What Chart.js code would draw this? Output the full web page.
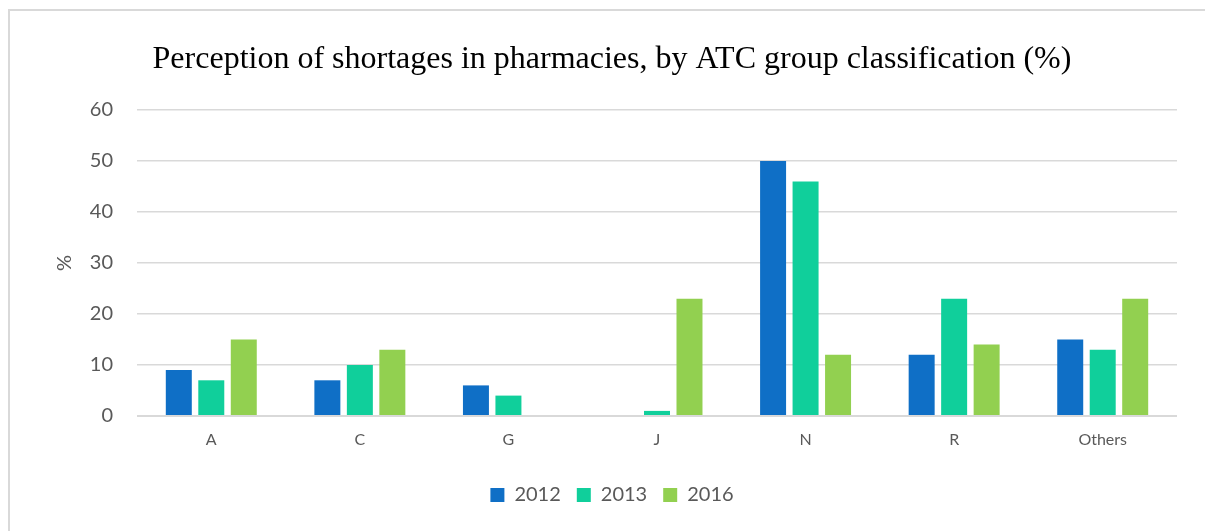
<!DOCTYPE html>
<html>
<head>
<meta charset="utf-8">
<script src="https://cdn.jsdelivr.net/npm/chart.js@4"></script>
<style>
  html, body { margin: 0; padding: 0; background: #ffffff; }
  #wrap { position: relative; width: 1205px; height: 531px; overflow: hidden; }
  #frame { position: absolute; left: 8px; top: 9px; width: 1300px; height: 700px; border: 2px solid #d9d9d9; box-sizing: border-box; }
  #c { position: absolute; left: 0; top: 0; }
</style>
</head>
<body>
<div id="wrap">
  <div id="frame"></div>
  <canvas id="c" width="1205" height="531"></canvas>
</div>
<script>
const categories = ["A", "C", "G", "J", "N", "R", "Others"];
const values2012 = [9, 7, 6, 0, 50, 12, 15];
const values2013 = [7, 10, 4, 1, 46, 23, 13];
const values2016 = [15, 13, 0, 23, 12, 14, 23];
const seriesLabels = ["2012", "2013", "2016"];
const seriesColors = ["#0F6FC6", "#10CF9B", "#92D050"];
const titleText = "Perception of shortages in pharmacies, by ATC group classification (%)";

const sansFont = "Lato, 'Open Sans', sans-serif";
const seriesValues = [values2012, values2013, values2016];

new Chart(document.getElementById('c'), {
  type: 'bar',
  data: {
    labels: categories,
    datasets: seriesLabels.map((lab, i) => ({
      label: lab,
      data: seriesValues[i],
      backgroundColor: seriesColors[i],
      borderWidth: 0,
      categoryPercentage: 0.656,
      barPercentage: 0.8
    }))
  },
  options: {
    responsive: false,
    animation: false,
    devicePixelRatio: 1,
    layout: { padding: { left: 47, right: 28, top: 10, bottom: 16 } },
    plugins: {
      title: {
        display: true,
        text: titleText,
        color: '#000000',
        font: { family: "'Liberation Serif', 'Times New Roman', serif", size: 32, weight: 'normal', lineHeight: 1.2 },
        padding: { top: 30, bottom: 31.6 }
      },
      legend: {
        position: 'bottom',
        labels: {
          color: '#595959',
          font: { family: sansFont, size: 20 },
          boxWidth: 14,
          boxHeight: 14,
          padding: 16
        }
      },
      tooltip: { enabled: false }
    },
    scales: {
      x: {
        grid: { display: false, drawTicks: false },
        border: { display: false },
        ticks: { color: '#595959', font: { family: sansFont, size: 16 }, padding: 14 },
        afterFit: (s) => { s.height = 53; }
      },
      y: {
        min: 0,
        max: 60,
        ticks: { stepSize: 10, color: '#595959', font: { family: sansFont, size: 20 }, padding: 24 },
        grid: {
          color: '#d9d9d9',
          drawTicks: false,
          lineWidth: (ctx) => (ctx.tick && ctx.tick.value === 0 ? 2 : 1.5)
        },
        border: { display: false },
        title: {
          display: true,
          text: '%',
          color: '#595959',
          font: { family: sansFont, size: 20 },
          padding: { top: 6, bottom: 0 }
        },
        afterFit: (s) => { s.width = 90; }
      }
    }
  }
});
</script>
</body>
</html>
